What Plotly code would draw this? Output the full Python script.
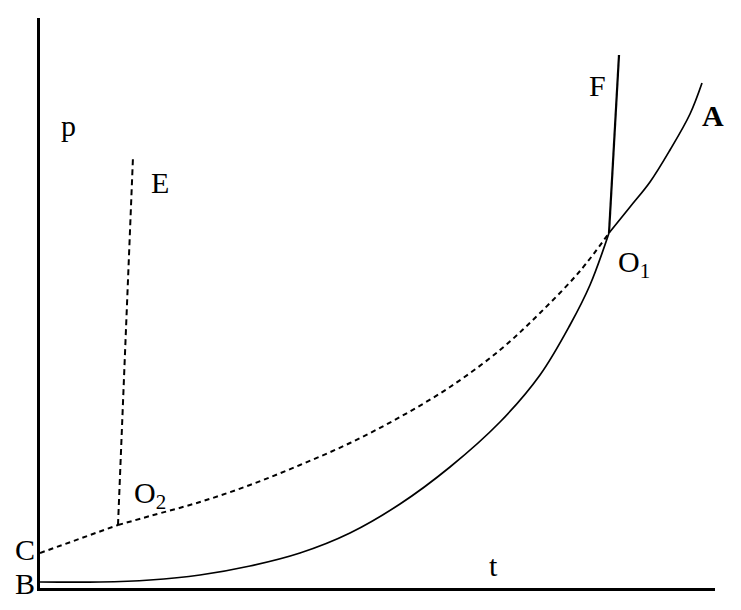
import plotly.graph_objects as go

# data in plot units (t to the right, p upward)
subl_t = [0, 60, 110, 160, 210, 260, 310, 360, 410, 460, 500, 530, 550, 569]
subl_p = [6, 6, 8, 13, 22, 35, 55, 84, 121, 166, 213, 263, 303, 355]

vap_t = [569, 590, 610, 630, 650, 662]
vap_p = [355, 381, 406, 438, 474, 505]

meta_low_t = [0, 78]
meta_low_p = [35, 63]

meta_t = [78, 110, 160, 210, 260, 310, 360, 410, 460, 500, 540, 569]
meta_p = [63, 72, 86, 103, 123, 145, 171, 201, 238, 275, 317, 355]

e_t = [78, 93]
e_p = [63, 431]

f_t = [569, 579]
f_p = [355, 533]

labels = ["p", "E", "F", "<b>A</b>", "O<sub>1</sub>", "O<sub>2</sub>", "t"]
lab_t = [28, 120, 557, 673, 594, 110, 453]
lab_p = [463, 406, 503, 473, 324, 93, 23]

side_labels = ["C", "B"]
side_p = [39, 5]

fig = go.Figure()
solid = dict(color="black", width=1.7, shape="spline")
dashed = dict(color="black", width=2.0, dash="5px,4px")
fig.add_trace(go.Scatter(x=subl_t, y=subl_p, mode="lines", line=solid, hoverinfo="skip"))
fig.add_trace(go.Scatter(x=vap_t, y=vap_p, mode="lines", line=solid, hoverinfo="skip"))
fig.add_trace(go.Scatter(x=meta_low_t, y=meta_low_p, mode="lines", line=dashed, hoverinfo="skip"))
fig.add_trace(go.Scatter(x=meta_t, y=meta_p, mode="lines", line=dict(dashed, shape="spline"), hoverinfo="skip"))
fig.add_trace(go.Scatter(x=e_t, y=e_p, mode="lines",
                         line=dict(color="black", width=2.0, dash="6px,4px"), hoverinfo="skip"))
fig.add_trace(go.Scatter(x=f_t, y=f_p, mode="lines",
                         line=dict(color="black", width=2.2), hoverinfo="skip"))

font = dict(family="Liberation Serif", size=30, color="black")
for txt, x, y in zip(labels, lab_t, lab_p):
    fig.add_annotation(x=x, y=y, text=txt, showarrow=False, font=font,
                       xanchor="center", yanchor="middle")
for txt, y in zip(side_labels, side_p):
    fig.add_annotation(x=-0.022, xref="paper", y=y, yref="y", text=txt, showarrow=False,
                       font=font, xanchor="center", yanchor="middle")

fig.update_layout(
    width=741, height=610,
    margin=dict(l=32, r=34, t=10, b=30),
    plot_bgcolor="white", paper_bgcolor="white",
    showlegend=False,
    xaxis=dict(range=[0, 675], showline=True, linecolor="black", linewidth=2.5,
               showgrid=False, zeroline=False, showticklabels=False, ticks=""),
    yaxis=dict(range=[0, 570], showline=True, linecolor="black", linewidth=2.5,
               showgrid=False, zeroline=False, showticklabels=False, ticks=""),
)
fig.write_html("out.html")
